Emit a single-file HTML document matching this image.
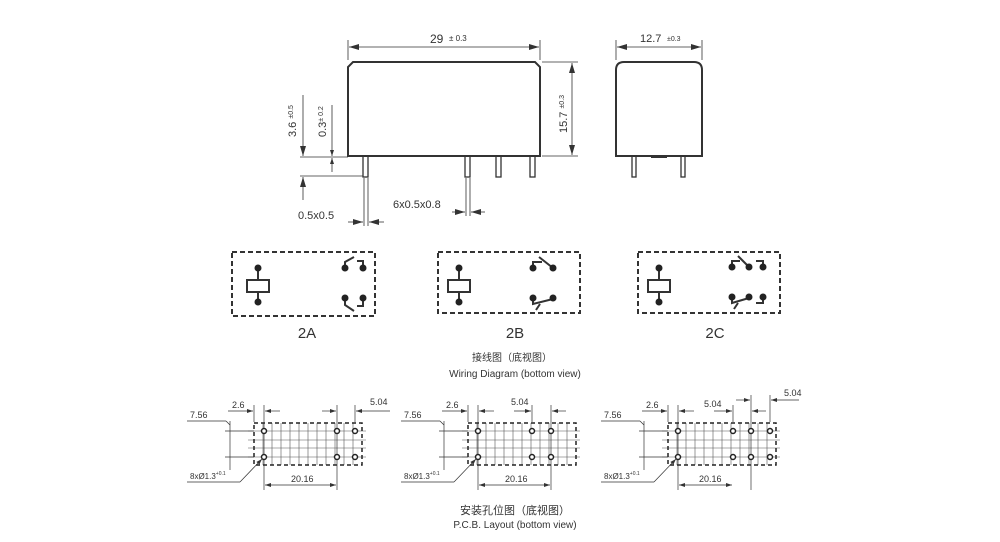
<!DOCTYPE html>
<html><head><meta charset="utf-8"><style>
html,body{margin:0;padding:0;background:#fff;width:1000px;height:542px;overflow:hidden}
svg{display:block}
text{font-family:"Liberation Sans","Noto Sans CJK SC",sans-serif;fill:#333}
</style></head><body>
<svg width="1000" height="542" viewBox="0 0 1000 542" xmlns="http://www.w3.org/2000/svg">
<defs>
<marker id="a" viewBox="0 0 10 6" refX="10" refY="3" markerWidth="10" markerHeight="6" orient="auto-start-reverse" markerUnits="userSpaceOnUse"><path d="M0,0 L10,3 L0,6 z" fill="#333"/></marker>
<marker id="s" viewBox="0 0 6 4" refX="6" refY="2" markerWidth="6" markerHeight="4" orient="auto-start-reverse" markerUnits="userSpaceOnUse"><path d="M0,0 L6,2 L0,4 z" fill="#333"/></marker>
</defs>
<g stroke="#333" fill="none">
<!-- front view -->
<path d="M348,156 L348,67 L353,62 L535,62 L540,67 L540,156 Z" stroke-width="2"/>
<g stroke-width="1.3">
<rect x="363" y="156" width="5" height="21"/><rect x="465" y="156" width="5" height="21"/>
<rect x="496" y="156" width="5" height="21"/><rect x="530" y="156" width="5" height="21"/>
</g>
<g stroke-width="0.8">
<line x1="348" y1="40" x2="348" y2="60"/><line x1="540" y1="40" x2="540" y2="60"/>
<line x1="349" y1="47" x2="539" y2="47" marker-start="url(#a)" marker-end="url(#a)"/>
<line x1="542" y1="62" x2="578" y2="62"/><line x1="542" y1="156" x2="578" y2="156"/>
<line x1="572" y1="63" x2="572" y2="155" marker-start="url(#a)" marker-end="url(#a)"/>
<line x1="300" y1="157" x2="348" y2="157"/><line x1="300" y1="176" x2="363" y2="176"/>
<line x1="303" y1="95" x2="303" y2="156" marker-end="url(#a)"/>
<line x1="303" y1="200" x2="303" y2="177" marker-end="url(#a)"/>
<line x1="332" y1="105" x2="332" y2="156" marker-end="url(#s)"/>
<line x1="332" y1="172" x2="332" y2="158" marker-end="url(#s)"/>
<line x1="364" y1="178" x2="364" y2="226"/><line x1="368" y1="178" x2="368" y2="226"/>
<line x1="348" y1="222" x2="363" y2="222" marker-end="url(#a)"/>
<line x1="384" y1="222" x2="369" y2="222" marker-end="url(#a)"/>
<line x1="466" y1="178" x2="466" y2="216"/><line x1="470" y1="178" x2="470" y2="216"/>
<line x1="452" y1="212" x2="465" y2="212" marker-end="url(#a)"/>
<line x1="485" y1="212" x2="471" y2="212" marker-end="url(#a)"/>
</g>
<!-- side view -->
<path d="M616,156 L616,70 Q616,62 624,62 L694,62 Q702,62 702,70 L702,156 Z" stroke-width="2"/>
<rect x="632" y="156" width="4" height="21" stroke-width="1.3"/>
<rect x="681" y="156" width="4" height="21" stroke-width="1.3"/>
<rect x="651" y="155" width="16" height="3" fill="#333" stroke="none"/>
<g stroke-width="0.8">
<line x1="616" y1="40" x2="616" y2="60"/><line x1="702" y1="40" x2="702" y2="60"/>
<line x1="617" y1="47" x2="701" y2="47" marker-start="url(#a)" marker-end="url(#a)"/>
</g>
<!-- wiring boxes -->
<g stroke-width="2" stroke-dasharray="5,3">
<rect x="232" y="252" width="143" height="64"/>
<rect x="438" y="252" width="142" height="61"/>
<rect x="638" y="252" width="142" height="61"/>
</g>
<g stroke-width="2">
<rect x="247" y="280" width="22" height="12"/><line x1="258" y1="268" x2="258" y2="280"/><line x1="258" y1="292" x2="258" y2="302"/>
<rect x="448" y="280" width="22" height="12"/><line x1="459" y1="268" x2="459" y2="280"/><line x1="459" y1="292" x2="459" y2="302"/>
<rect x="648" y="280" width="22" height="12"/><line x1="659" y1="268" x2="659" y2="280"/><line x1="659" y1="292" x2="659" y2="302"/>
<!-- 2A -->
<path d="M345,268 L345,262 L354,257"/><path d="M363,268 L363,261 L357,261"/>
<path d="M345,298 L345,305 L354,311"/><path d="M363,298 L363,306 L357,306"/>
<!-- 2B -->
<path d="M533,268 L533,262 L542,262"/><path d="M539,257 L553,268"/>
<path d="M533,298 L533,304 L553,299"/><path d="M540,304 L536,310"/>
<!-- 2C -->
<path d="M732,267 L732,261 L740,261"/><path d="M738,256 L749,267"/><path d="M763,267 L763,261 L756,261"/>
<path d="M732,297 L732,303 L749,298"/><path d="M738,303 L734,309"/><path d="M763,297 L763,303 L756,303"/>
</g>
</g>
<g fill="#222">
<circle cx="258" cy="268" r="3.5"/><circle cx="258" cy="302" r="3.5"/>
<circle cx="345" cy="268" r="3.5"/><circle cx="363" cy="268" r="3.5"/><circle cx="345" cy="298" r="3.5"/><circle cx="363" cy="298" r="3.5"/>
<circle cx="459" cy="268" r="3.5"/><circle cx="459" cy="302" r="3.5"/>
<circle cx="533" cy="268" r="3.5"/><circle cx="553" cy="268" r="3.5"/><circle cx="533" cy="298" r="3.5"/><circle cx="553" cy="298" r="3.5"/>
<circle cx="659" cy="268" r="3.5"/><circle cx="659" cy="302" r="3.5"/>
<circle cx="732" cy="267" r="3.5"/><circle cx="749" cy="267" r="3.5"/><circle cx="763" cy="267" r="3.5"/>
<circle cx="732" cy="297" r="3.5"/><circle cx="749" cy="297" r="3.5"/><circle cx="763" cy="297" r="3.5"/>
</g>
<!-- texts top -->
<text x="430" y="43" font-size="12">29</text><text x="449" y="41" font-size="8">± 0.3</text>
<text x="640" y="42" font-size="11">12.7</text><text x="667" y="41" font-size="7">±0.3</text>
<text transform="translate(567,133) rotate(-90)" font-size="11">15.7 <tspan font-size="7" dy="-3">±0.3</tspan></text>
<text transform="translate(296,137) rotate(-90)" font-size="11">3.6 <tspan font-size="7" dy="-3">±0.5</tspan></text>
<text transform="translate(326,137) rotate(-90)" font-size="11">0.3<tspan font-size="7" dy="-3">± 0.2</tspan></text>
<text x="298" y="219" font-size="11">0.5x0.5</text>
<text x="393" y="208" font-size="11">6x0.5x0.8</text>
<text x="307" y="338" font-size="15" text-anchor="middle">2A</text>
<text x="515" y="338" font-size="15" text-anchor="middle">2B</text>
<text x="715" y="338" font-size="15" text-anchor="middle">2C</text>
<text x="512" y="361" font-size="10" text-anchor="middle">接线图（底视图）</text>
<text x="515" y="377" font-size="10" text-anchor="middle">Wiring Diagram (bottom view)</text>
<text x="515" y="514" font-size="11" text-anchor="middle">安装孔位图（底视图）</text>
<text x="515" y="528" font-size="10" text-anchor="middle">P.C.B. Layout (bottom view)</text>

<!-- PCB 1 -->
<g id="p1">
<g stroke="#555" stroke-width="0.6" fill="none">
<path d="M263,423V465M272,423V465M281,423V465M290,423V465M299,423V465M308,423V465M317,423V465M326,423V465M335,423V465M344,423V465M353,423V465"/>
<path d="M248,431H366M248,440H366M248,448H366M248,457H366"/>
</g>
<rect x="254" y="423" width="108" height="42" fill="none" stroke="#222" stroke-width="1.5" stroke-dasharray="4,3"/>
<g stroke="#333" stroke-width="0.7" fill="none">
<line x1="187" y1="421" x2="226" y2="421"/><line x1="226" y1="421" x2="230" y2="425"/>
<line x1="230" y1="421" x2="230" y2="470"/>
<line x1="225" y1="431" x2="254" y2="431"/><line x1="225" y1="457" x2="254" y2="457"/>
<line x1="254" y1="405" x2="254" y2="422"/><line x1="264" y1="405" x2="264" y2="490"/>
<line x1="228" y1="411" x2="253" y2="411" marker-end="url(#s)"/><line x1="280" y1="411" x2="265" y2="411" marker-end="url(#s)"/>
<line x1="187" y1="482" x2="240" y2="482"/><line x1="240" y1="482" x2="262" y2="459" marker-end="url(#s)"/>
<line x1="265" y1="485" x2="336" y2="485" marker-start="url(#s)" marker-end="url(#s)"/>
<line x1="337" y1="405" x2="337" y2="490"/><line x1="355" y1="405" x2="355" y2="422"/>
<line x1="322" y1="411" x2="336" y2="411" marker-end="url(#s)"/><line x1="390" y1="411" x2="356" y2="411" marker-end="url(#s)"/>
</g>
<g fill="#fff" stroke="#222" stroke-width="1.5">
<circle cx="264" cy="431" r="2.5"/><circle cx="264" cy="457" r="2.5"/>
<circle cx="337" cy="431" r="2.5"/><circle cx="337" cy="457" r="2.5"/>
<circle cx="355" cy="431" r="2.5"/><circle cx="355" cy="457" r="2.5"/>
</g>
<text x="232" y="408" font-size="9">2.6</text>
<text x="370" y="405" font-size="9">5.04</text>
<text x="190" y="418" font-size="9">7.56</text>
<text x="190" y="479" font-size="8">8xØ1.3<tspan font-size="5" dy="-4">+0.1</tspan></text>
<text x="291" y="482" font-size="9">20.16</text>
</g>
<!-- PCB 2 -->
<g transform="translate(214,0)">
<g stroke="#555" stroke-width="0.6" fill="none">
<path d="M263,423V465M272,423V465M281,423V465M290,423V465M299,423V465M308,423V465M317,423V465M326,423V465M335,423V465M344,423V465M353,423V465"/>
<path d="M248,431H366M248,440H366M248,448H366M248,457H366"/>
</g>
<rect x="254" y="423" width="108" height="42" fill="none" stroke="#222" stroke-width="1.5" stroke-dasharray="4,3"/>
<g stroke="#333" stroke-width="0.7" fill="none">
<line x1="187" y1="421" x2="226" y2="421"/><line x1="226" y1="421" x2="230" y2="425"/>
<line x1="230" y1="421" x2="230" y2="470"/>
<line x1="225" y1="431" x2="254" y2="431"/><line x1="225" y1="457" x2="254" y2="457"/>
<line x1="254" y1="405" x2="254" y2="422"/><line x1="264" y1="405" x2="264" y2="490"/>
<line x1="228" y1="411" x2="253" y2="411" marker-end="url(#s)"/><line x1="280" y1="411" x2="265" y2="411" marker-end="url(#s)"/>
<line x1="187" y1="482" x2="240" y2="482"/><line x1="240" y1="482" x2="262" y2="459" marker-end="url(#s)"/>
<line x1="265" y1="485" x2="336" y2="485" marker-start="url(#s)" marker-end="url(#s)"/>
<line x1="318" y1="405" x2="318" y2="422"/><line x1="337" y1="405" x2="337" y2="490"/>
<line x1="300" y1="411" x2="317" y2="411" marker-end="url(#s)"/><line x1="352" y1="411" x2="338" y2="411" marker-end="url(#s)"/>
</g>
<g fill="#fff" stroke="#222" stroke-width="1.5">
<circle cx="264" cy="431" r="2.5"/><circle cx="264" cy="457" r="2.5"/>
<circle cx="318" cy="431" r="2.5"/><circle cx="318" cy="457" r="2.5"/>
<circle cx="337" cy="431" r="2.5"/><circle cx="337" cy="457" r="2.5"/>
</g>
<text x="232" y="408" font-size="9">2.6</text>
<text x="297" y="405" font-size="9">5.04</text>
<text x="190" y="418" font-size="9">7.56</text>
<text x="190" y="479" font-size="8">8xØ1.3<tspan font-size="5" dy="-4">+0.1</tspan></text>
<text x="291" y="482" font-size="9">20.16</text>
</g>
<!-- PCB 3 -->
<g transform="translate(414,0)">
<g stroke="#555" stroke-width="0.6" fill="none">
<path d="M263,423V465M272,423V465M281,423V465M290,423V465M299,423V465M308,423V465M317,423V465M326,423V465M335,423V465M344,423V465M353,423V465"/>
<path d="M248,431H366M248,440H366M248,448H366M248,457H366"/>
</g>
<rect x="254" y="423" width="108" height="42" fill="none" stroke="#222" stroke-width="1.5" stroke-dasharray="4,3"/>
<g stroke="#333" stroke-width="0.7" fill="none">
<line x1="187" y1="421" x2="226" y2="421"/><line x1="226" y1="421" x2="230" y2="425"/>
<line x1="230" y1="421" x2="230" y2="470"/>
<line x1="225" y1="431" x2="254" y2="431"/><line x1="225" y1="457" x2="254" y2="457"/>
<line x1="254" y1="405" x2="254" y2="422"/><line x1="264" y1="405" x2="264" y2="490"/>
<line x1="228" y1="411" x2="253" y2="411" marker-end="url(#s)"/><line x1="280" y1="411" x2="265" y2="411" marker-end="url(#s)"/>
<line x1="187" y1="482" x2="240" y2="482"/><line x1="240" y1="482" x2="262" y2="459" marker-end="url(#s)"/>
<line x1="265" y1="485" x2="318" y2="485" marker-start="url(#s)" marker-end="url(#s)"/>
<line x1="319" y1="405" x2="319" y2="422"/><line x1="337" y1="395" x2="337" y2="490"/><line x1="356" y1="395" x2="356" y2="422"/>
<line x1="300" y1="411" x2="318" y2="411" marker-end="url(#s)"/><line x1="352" y1="411" x2="338" y2="411" marker-end="url(#s)"/>
<line x1="322" y1="400" x2="336" y2="400" marker-end="url(#s)"/><line x1="385" y1="400" x2="357" y2="400" marker-end="url(#s)"/>
</g>
<g fill="#fff" stroke="#222" stroke-width="1.5">
<circle cx="264" cy="431" r="2.5"/><circle cx="264" cy="457" r="2.5"/>
<circle cx="319" cy="431" r="2.5"/><circle cx="319" cy="457" r="2.5"/>
<circle cx="337" cy="431" r="2.5"/><circle cx="337" cy="457" r="2.5"/>
<circle cx="356" cy="431" r="2.5"/><circle cx="356" cy="457" r="2.5"/>
</g>
<text x="232" y="408" font-size="9">2.6</text>
<text x="290" y="407" font-size="9">5.04</text>
<text x="370" y="396" font-size="9">5.04</text>
<text x="190" y="418" font-size="9">7.56</text>
<text x="190" y="479" font-size="8">8xØ1.3<tspan font-size="5" dy="-4">+0.1</tspan></text>
<text x="285" y="482" font-size="9">20.16</text>
</g>
</svg>
</body></html>
